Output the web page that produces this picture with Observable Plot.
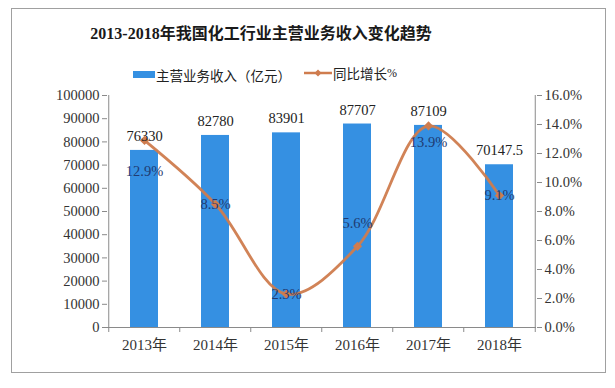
<!DOCTYPE html>
<html>
<head>
<meta charset="utf-8">
<script src="https://cdn.jsdelivr.net/npm/d3@7"></script>
<script src="https://cdn.jsdelivr.net/npm/@observablehq/plot@0.6"></script>
<style>
  html, body { margin: 0; padding: 0; background: #fff; }
  #wrap { position: relative; width: 615px; height: 388px; overflow: hidden; background: #fff;
          font-family: "Liberation Serif", "Noto Sans CJK SC", serif; }
  #frame { position: absolute; left: 11px; top: 8px; width: 593px; height: 363px; border: 1px solid #a0a0a0; }
  #title { position: absolute; left: 0; width: 522px; top: 23px; text-align: center; font-size: 16px;
           font-weight: bold; color: #1a1a1a; line-height: 22px; white-space: nowrap; }
  #legend { position: absolute; left: 0; width: 530px; top: 62px; text-align: center; font-size: 13.5px;
            color: #222; line-height: 20px; white-space: nowrap; font-family: "Noto Sans CJK SC", sans-serif; }
  #legend .item { display: inline-flex; align-items: center; margin: 0 5px; }
  #legend .sw { display: inline-block; width: 22px; height: 7px; background: #3590e2; margin-right: 1px; }
  #legend .pct { font-family: "Liberation Serif", serif; font-size: 12px; }
  #chart { position: absolute; left: 0; top: 80px; }
</style>
</head>
<body>
<div id="wrap">
  <div id="frame"></div>
  <div id="title">2013-2018年我国化工行业主营业务收入变化趋势</div>
  <div id="legend">
    <span class="item"><span class="sw"></span>主营业务收入（亿元）</span>
    <span class="item"><svg width="28" height="10" style="margin-right:1px"><line x1="0" y1="5" x2="28" y2="5" stroke="#cf7c4e" stroke-width="2.5"/><path d="M14,1.5 L17.5,5 L14,8.5 L10.5,5Z" fill="#cf7c4e"/></svg>同比增长<span class="pct">%</span></span>
  </div>
  <div id="chart"></div>
</div>
<script>
const years = ["2013年", "2014年", "2015年", "2016年", "2017年", "2018年"];
const revenue = [76330, 82780, 83901, 87707, 87109, 70147.5];
const growth = [12.9, 8.5, 2.3, 5.6, 13.9, 9.1];
const revenueTicks = [0, 10000, 20000, 30000, 40000, 50000, 60000, 70000, 80000, 90000, 100000];
const growthTicks = [0, 2, 4, 6, 8, 10, 12, 14, 16];

const yMax = 100000, gMax = 16;
const toY = g => g * yMax / gMax;
const rows = years.map((year, i) => ({year, revenue: revenue[i], growth: growth[i], gy: toY(growth[i])}));

const W = 615, H = 308, mL = 107, mR = 79, mT = 15, mB = 61;
const step = (W - mL - mR) / years.length;
const tickLen = 5 * yMax / (H - mT - mB);

const lineColor = "#cf7c4e";
const pctColor = "#1f3b72";
const numFont = "'Liberation Serif', 'Noto Sans CJK SC', serif";

const chart = Plot.plot({
  width: W, height: H,
  marginLeft: mL, marginRight: mR, marginTop: mT, marginBottom: mB,
  style: {fontFamily: numFont, fontSize: "14.5px", color: "#333", background: "transparent"},
  x: {domain: years, paddingInner: 0.6, paddingOuter: 0.3, label: null},
  y: {domain: [0, yMax], label: null},
  marks: [
    Plot.barY(rows, {x: "year", y: "revenue", fill: "#3590e2"}),
    Plot.ruleY([0], {stroke: "#8a8a8a"}),
    Plot.ruleX([years[0]], {dx: -step / 2, y1: 0, y2: yMax, stroke: "#8a8a8a"}),
    Plot.ruleX([years[years.length - 1]], {dx: step / 2, y1: 0, y2: yMax, stroke: "#8a8a8a"}),
    Plot.ruleX(years, {dx: -step / 2, y1: 0, y2: -tickLen, stroke: "#8a8a8a"}),
    Plot.ruleX([years[years.length - 1]], {dx: step / 2, y1: 0, y2: -tickLen, stroke: "#8a8a8a"}),
    Plot.axisY({ticks: revenueTicks, tickSize: 5, tickPadding: 3, stroke: "#8a8a8a", tickFormat: d => String(d), label: null}),
    Plot.axisY(growthTicks.map(toY), {anchor: "right", tickSize: 5, tickPadding: 3, stroke: "#8a8a8a",
      tickFormat: d => (d * gMax / yMax).toFixed(1) + "%", label: null}),
    Plot.axisX({tickSize: 0, tickPadding: 12, fontSize: 15, label: null}),
    Plot.line(rows, {x: "year", y: "gy", curve: "catmull-rom", stroke: lineColor, strokeWidth: 2.8, strokeOpacity: 0.95}),
    Plot.dot(rows, {x: "year", y: "gy", symbol: "diamond2", r: 3.2, fill: lineColor, stroke: lineColor}),
    Plot.text(rows, {x: "year", y: "revenue", text: d => String(d.revenue), dy: -14, fill: "#222", fontSize: 14.5}),
    Plot.text(rows, {filter: d => d.year === years[0], x: "year", y: "gy", text: d => d.growth.toFixed(1) + "%", dy: 31, fill: pctColor, fontSize: 14.5}),
    Plot.text(rows, {filter: d => d.year === years[4], x: "year", y: "gy", text: d => d.growth.toFixed(1) + "%", dy: 16, fill: pctColor, fontSize: 14.5}),
    Plot.text(rows, {filter: d => d.year === years[3], x: "year", y: "gy", text: d => d.growth.toFixed(1) + "%", dy: -23, fill: pctColor, fontSize: 14.5}),
    Plot.text(rows, {filter: d => [years[1], years[2], years[5]].includes(d.year), x: "year", y: "gy", text: d => d.growth.toFixed(1) + "%", dy: 0, fill: pctColor, fontSize: 14.5})
  ]
});
document.getElementById("chart").appendChild(chart);
</script>
</body>
</html>
